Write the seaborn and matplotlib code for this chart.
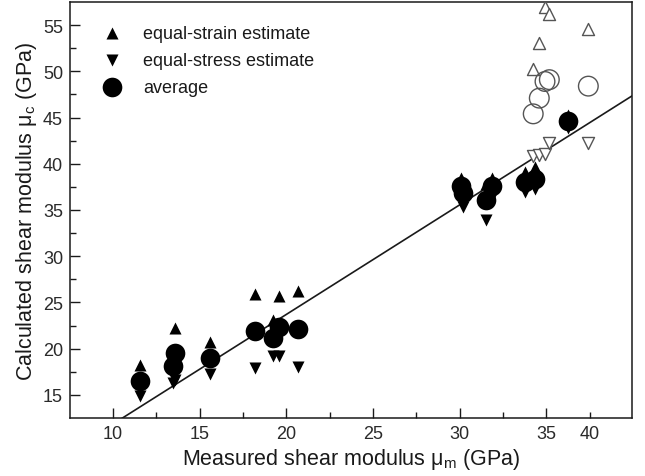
import matplotlib
matplotlib.use("Agg")
import matplotlib.pyplot as plt
import seaborn as sns
import numpy as np
import pandas as pd

# ---- data (filled markers: main samples) ----
x_filled      = [11.56, 13.58, 13.45, 15.6, 18.19, 19.58, 19.25, 20.7,
                 30.1, 30.2, 31.9, 31.5, 33.8, 34.35, 36.27]
strain_filled = [18.2, 22.2, 19.9, 20.7, 25.9, 25.7, 23.1, 26.25,
                 38.5, 38.0, 38.5, 37.8, 39.1, 39.6, 45.3]
avg_filled    = [16.45, 19.5, 18.1, 19.0, 21.95, 22.35, 21.1, 22.1,
                 37.6, 36.8, 37.6, 36.1, 38.0, 38.4, 44.65]
stress_filled = [14.85, 16.6, 16.3, 17.25, 17.95, 19.2, 19.2, 18.0,
                 36.2, 35.3, 36.4, 33.95, 36.9, 37.3, 43.9]

# ---- data (open markers) ----
x_open      = [34.25, 34.6, 34.93, 35.18, 37.43]
strain_open = [50.2, 53.1, 57.0, 56.2, 54.6]
avg_open    = [45.4, 47.1, 48.9, 49.1, 48.4]
stress_open = [40.8, 40.9, 41.05, 42.2, 42.2]

fit_slope = 1.185

x_major = [10, 15, 20, 25, 30, 35]
x_minor = [12.5, 17.5, 22.5, 27.5, 32.5, 37.5]
x_minor_labels = ["", "", "", "", "", "40"]
y_major = [15, 20, 25, 30, 35, 40, 45, 50, 55]
y_minor = [17.5, 22.5, 27.5, 32.5, 37.5, 42.5, 47.5, 52.5]

sns.set_style("ticks")
plt.rcParams["font.family"] = ["Liberation Sans", "DejaVu Sans"]
plt.rcParams["mathtext.fontset"] = "custom"
plt.rcParams["mathtext.rm"] = "Liberation Sans"
plt.rcParams["mathtext.it"] = "Liberation Sans:italic"

fig = plt.figure(figsize=(6.45, 4.77), dpi=100)
ax = fig.add_axes([70/645, 1-419/477, (632-70)/645, (419-3)/477])

xlim = (7.52, 39.95)
ylim = (12.5, 57.5)

# regression line
lx = np.array(xlim)
line_df = pd.DataFrame({"x": lx, "y": fit_slope * lx})
sns.lineplot(data=line_df, x="x", y="y", ax=ax, color="#1a1a1a", lw=1.2, zorder=2)

# open markers
edge = "#555555"
sns.scatterplot(x=x_open, y=strain_open, marker="^", s=75, facecolor="white",
                edgecolor=edge, linewidth=1.0, ax=ax, zorder=3)
sns.scatterplot(x=x_open, y=stress_open, marker="v", s=75, facecolor="white",
                edgecolor=edge, linewidth=1.0, ax=ax, zorder=3)
sns.scatterplot(x=x_open, y=avg_open, marker="o", s=200, facecolor="none",
                edgecolor=edge, linewidth=1.0, ax=ax, zorder=3)

# filled markers
sns.scatterplot(x=x_filled, y=strain_filled, marker="^", s=75, color="black",
                edgecolor="black", linewidth=0, ax=ax, zorder=4,
                label="equal-strain estimate")
sns.scatterplot(x=x_filled, y=stress_filled, marker="v", s=75, color="black",
                edgecolor="black", linewidth=0, ax=ax, zorder=4,
                label="equal-stress estimate")
sns.scatterplot(x=x_filled, y=avg_filled, marker="o", s=200, color="black",
                edgecolor="black", linewidth=0, ax=ax, zorder=5,
                label="average")

ax.set_xlim(*xlim)
ax.set_ylim(*ylim)
ax.set_xticks(x_major)
ax.set_xticks(x_minor, minor=True)
ax.set_xticklabels([str(v) for v in x_major])
ax.set_xticklabels(x_minor_labels, minor=True)
ax.set_yticks(y_major)
ax.set_yticks(y_minor, minor=True)

ax.tick_params(axis="both", which="major", direction="in", length=7, width=1,
               labelsize=13, colors="#1a1a1a", labelcolor="#2a2a2a", pad=5)
ax.tick_params(axis="both", which="minor", direction="in", length=4, width=1,
               labelsize=13, colors="#1a1a1a", labelcolor="#2a2a2a", pad=5)
for s in ax.spines.values():
    s.set_linewidth(1.1)
    s.set_color("#1a1a1a")

ax.set_xlabel(r"Measured shear modulus μ$_\mathrm{m}$ (GPa)", fontsize=15.5,
              labelpad=3, color="#1a1a1a")
ax.set_ylabel(r"Calculated shear modulus μ$_\mathrm{c}$ (GPa)", fontsize=15.5,
              labelpad=3, color="#1a1a1a")

leg = ax.legend(loc="upper left", frameon=False, fontsize=13,
                handletextpad=0.7, labelspacing=0.55, borderaxespad=0.0,
                bbox_to_anchor=(0.03, 0.962), markerscale=1.0)
for t in leg.get_texts():
    t.set_color("#1a1a1a")

fig.savefig("out.png", dpi=100)
